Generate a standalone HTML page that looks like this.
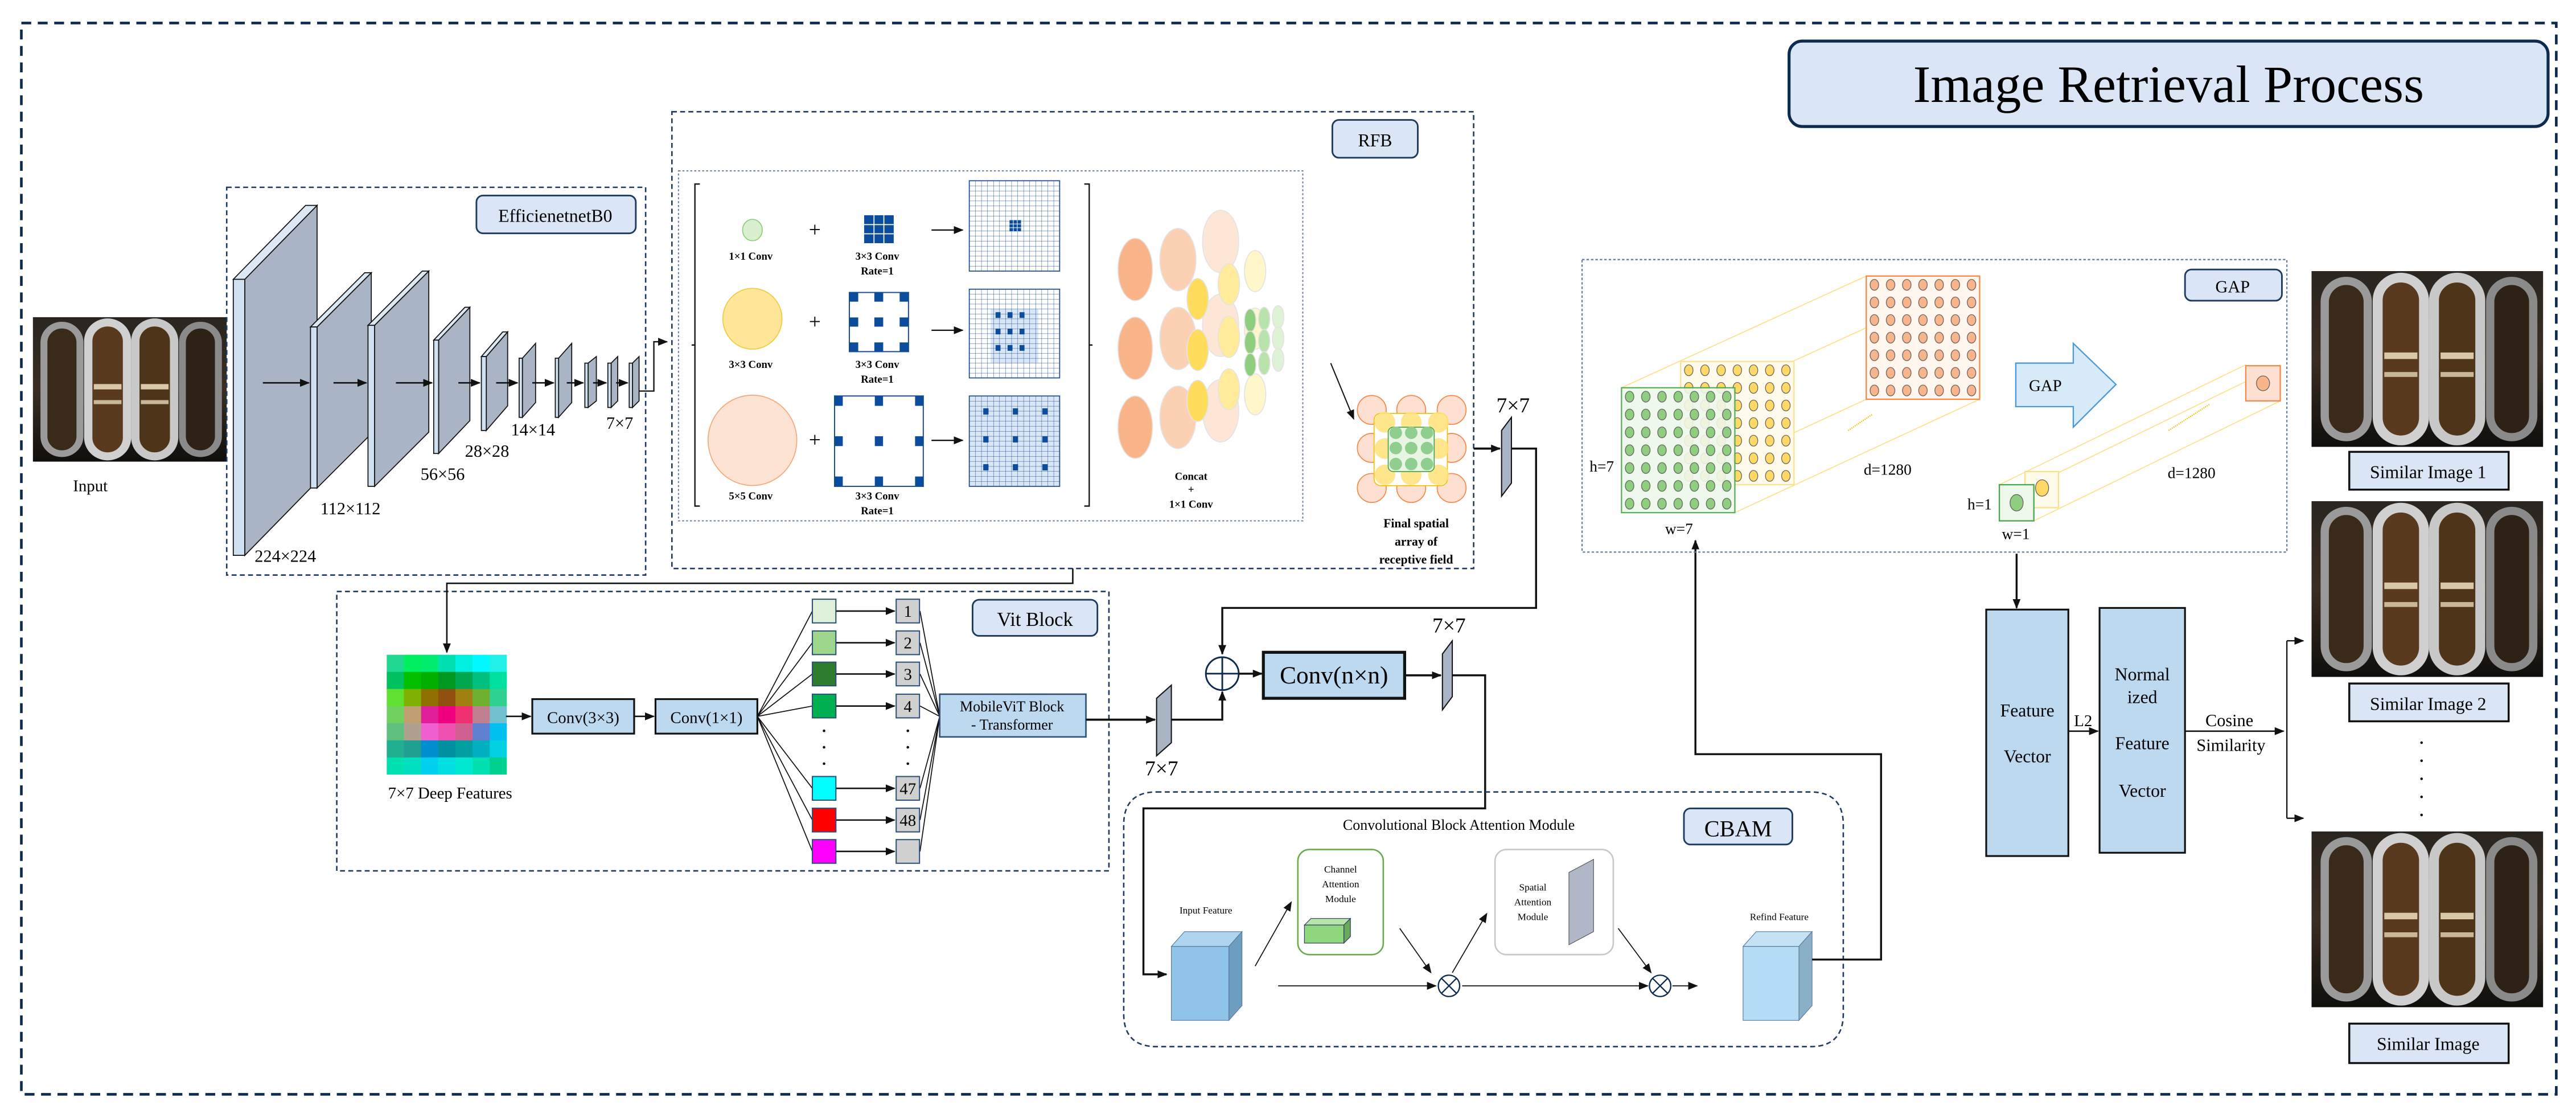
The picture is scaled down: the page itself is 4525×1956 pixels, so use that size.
<!DOCTYPE html>
<html><head><meta charset="utf-8">
<style>
html,body{margin:0;padding:0;background:#fff;}
svg{display:block;font-family:"Liberation Serif",serif;}
</style></head>
<body>
<svg width="4525" height="1956" viewBox="0 0 1568 678" preserveAspectRatio="none" xmlns="http://www.w3.org/2000/svg">
<defs>
<marker id="ah" viewBox="0 0 10 10" refX="9" refY="5" markerWidth="6" markerHeight="6" orient="auto" markerUnits="userSpaceOnUse"><path d="M0,1 L10,5 L0,9 z" fill="#111"/></marker>
<linearGradient id="ph" x1="0" y1="0" x2="0" y2="1"><stop offset="0" stop-color="#2a2520"/><stop offset="0.5" stop-color="#3a2e22"/><stop offset="1" stop-color="#100e0c"/></linearGradient>
<g id="photo">
<rect x="0" y="0" width="140" height="108" fill="url(#ph)"/>
<rect x="8" y="6" width="26" height="96" rx="13" fill="#3a2a1a" stroke="#9a9a9a" stroke-width="5"/>
<rect x="40" y="4" width="28" height="100" rx="14" fill="#5a3a1e" stroke="#d0d0d0" stroke-width="6"/>
<rect x="74" y="4" width="28" height="100" rx="14" fill="#4e3418" stroke="#c8c8c8" stroke-width="6"/>
<rect x="108" y="6" width="26" height="96" rx="13" fill="#2e2216" stroke="#8a8a8a" stroke-width="5"/>
<rect x="44" y="50" width="20" height="4" fill="#d8c8a8"/><rect x="78" y="50" width="20" height="4" fill="#d8c8a8"/>
<rect x="44" y="62" width="20" height="3" fill="#c8b898"/><rect x="78" y="62" width="20" height="3" fill="#c8b898"/>
</g>
<pattern id="g1" patternUnits="userSpaceOnUse" x="590" y="110" width="3.667" height="3.056"><path d="M0,0 H3.667 M0,0 V3.056" stroke="#1f4e8f" stroke-width="0.35" fill="none"/></pattern>
<pattern id="g2" patternUnits="userSpaceOnUse" x="590" y="176" width="3.667" height="3.0"><path d="M0,0 H3.667 M0,0 V3" stroke="#1f4e8f" stroke-width="0.35" fill="none"/></pattern>
<pattern id="g3" patternUnits="userSpaceOnUse" x="590" y="241" width="3.667" height="3.056"><path d="M0,0 H3.667 M0,0 V3.056" stroke="#1f4e8f" stroke-width="0.35" fill="none"/></pattern>
<pattern id="cO" patternUnits="userSpaceOnUse" x="1136" y="168" width="9.857" height="10.714"><ellipse cx="4.93" cy="5.36" rx="2.6" ry="3.3" fill="#f8b48a" stroke="#555" stroke-width="0.4"/></pattern>
<pattern id="cY" patternUnits="userSpaceOnUse" x="1023" y="220" width="9.857" height="10.714"><ellipse cx="4.93" cy="5.36" rx="2.6" ry="3.3" fill="#ffd966" stroke="#555" stroke-width="0.4"/></pattern>
<pattern id="cG" patternUnits="userSpaceOnUse" x="987" y="236" width="9.857" height="10.857"><ellipse cx="4.93" cy="5.43" rx="2.6" ry="3.3" fill="#8fce7f" stroke="#555" stroke-width="0.4"/></pattern>
</defs>

<rect x="13" y="14" width="1543" height="652" fill="none" stroke="#0d2a4f" stroke-width="1.6" stroke-dasharray="6,4"/>
<rect x="1089" y="25" width="462" height="52" rx="8" fill="#dae6f5" stroke="#0d2a4f" stroke-width="1.8"/>
<text x="1320" y="62" font-size="32" text-anchor="middle">Image Retrieval Process</text>

<svg x="20" y="193" width="118" height="88" viewBox="0 0 140 108" preserveAspectRatio="none"><use href="#photo"/></svg>
<text x="55" y="299" font-size="10" text-anchor="middle">Input</text>

<!-- EfficientNet -->
<rect x="138" y="114" width="255" height="236" fill="none" stroke="#1f3a5f" stroke-width="0.9" stroke-dasharray="3,2"/>
<rect x="290" y="119" width="97" height="23" rx="4" fill="#dae6f5" stroke="#1f3a5f" stroke-width="1"/>
<text x="338" y="135" font-size="11" text-anchor="middle">EfficienetnetB0</text>
<g stroke="#111" stroke-width="0.6">
<polygon points="149,170 193,125 193,293 149,338" fill="#a9b4c4"/><polygon points="142,170 186,125 193,125 149,170" fill="#dce8f4"/><rect x="142" y="170" width="7" height="168" fill="#cfe0f0"/>
<polygon points="193,199 226,166 226,264 193,297" fill="#a9b4c4"/><polygon points="189,199 222,166 226,166 193,199" fill="#dce8f4"/><rect x="189" y="199" width="4" height="98" fill="#cfe0f0"/>
<polygon points="228,198 261,165 261,263 228,296" fill="#a9b4c4"/><polygon points="224,198 257,165 261,165 228,198" fill="#dce8f4"/><rect x="224" y="198" width="4" height="98" fill="#cfe0f0"/>
<polygon points="267,207 286,187 286,256 267,276" fill="#a9b4c4"/><polygon points="264,207 283,187 286,187 267,207" fill="#dce8f4"/><rect x="264" y="207" width="3" height="69" fill="#cfe0f0"/>
<polygon points="296,217 309,202 309,247 296,262" fill="#a9b4c4"/><polygon points="293,217 306,202 309,202 296,217" fill="#dce8f4"/><rect x="293" y="217" width="3" height="45" fill="#cfe0f0"/>
<polygon points="318,218 326,209 326,245 318,254" fill="#a9b4c4"/><rect x="316" y="218" width="2" height="36" fill="#cfe0f0"/>
<polygon points="340,218 348,209 348,245 340,254" fill="#a9b4c4"/><rect x="338" y="218" width="2" height="36" fill="#cfe0f0"/>
<polygon points="358,221 363,217 363,244 358,248" fill="#a9b4c4"/><rect x="356" y="221" width="2" height="27" fill="#cfe0f0"/>
<polygon points="372,221 376,217 376,244 372,248" fill="#a9b4c4"/><rect x="370" y="221" width="2" height="27" fill="#cfe0f0"/>
<polygon points="385,221 389,217 389,244 385,248" fill="#a9b4c4"/><rect x="383" y="221" width="2" height="27" fill="#cfe0f0"/>
</g>
<g stroke="#111" stroke-width="0.9" marker-end="url(#ah)">
<line x1="160" y1="233" x2="188" y2="233"/><line x1="203" y1="233" x2="223" y2="233"/><line x1="241" y1="233" x2="263" y2="233"/><line x1="279" y1="233" x2="292" y2="233"/><line x1="302" y1="233" x2="315" y2="233"/><line x1="324" y1="233" x2="337" y2="233"/><line x1="345" y1="233" x2="355" y2="233"/><line x1="361" y1="233" x2="369" y2="233"/><line x1="375" y1="233" x2="382" y2="233"/>
</g>
<g font-size="10.5">
<text x="155" y="342">224×224</text><text x="195" y="313">112×112</text><text x="256" y="292">56×56</text><text x="283" y="278">28×28</text><text x="311" y="265">14×14</text><text x="369" y="261">7×7</text>
</g>
<polyline points="389,238 398,238 398,208 406,208" fill="none" stroke="#111" stroke-width="0.8" marker-end="url(#ah)"/>

<!-- RFB -->
<rect x="409" y="68" width="488" height="278" fill="none" stroke="#1f3a5f" stroke-width="0.9" stroke-dasharray="3,2"/>
<rect x="811" y="73" width="52" height="23" rx="4" fill="#dae6f5" stroke="#1f3a5f" stroke-width="1"/>
<text x="837" y="89" font-size="11" text-anchor="middle">RFB</text>
<rect x="413" y="104" width="380" height="213" fill="none" stroke="#6a7f99" stroke-width="0.7" stroke-dasharray="1.2,1.2"/>
<path d="M426,112 h-3 v196 h3 M660,112 h3 v196 h-3 M423,210 h-2 M663,210 h2" fill="none" stroke="#111" stroke-width="0.8"/>
<ellipse cx="458" cy="140" rx="6" ry="6.5" fill="#d8efd0" stroke="#8fce7f" stroke-width="0.6"/>
<ellipse cx="458" cy="194" rx="18" ry="18.5" fill="#ffe699" stroke="#f5c842" stroke-width="0.6"/>
<ellipse cx="458" cy="268" rx="27" ry="27.5" fill="#fde3d3" stroke="#f4a97a" stroke-width="0.6"/>
<g font-size="13" text-anchor="middle"><text x="496" y="144">+</text><text x="496" y="200">+</text><text x="496" y="272">+</text></g>
<g font-size="6.5" font-weight="bold" text-anchor="middle">
<text x="457" y="158">1×1 Conv</text><text x="457" y="224">3×3 Conv</text><text x="457" y="304">5×5 Conv</text>
<text x="534" y="158">3×3 Conv</text><text x="534" y="167">Rate=1</text>
<text x="534" y="224">3×3 Conv</text><text x="534" y="233">Rate=1</text>
<text x="534" y="304">3×3 Conv</text><text x="534" y="313">Rate=1</text>
<text x="725" y="292">Concat</text><text x="725" y="300">+</text><text x="725" y="309">1×1 Conv</text>
</g>
<g stroke="#111" stroke-width="0.8" marker-end="url(#ah)"><line x1="567" y1="140" x2="586" y2="140"/><line x1="567" y1="201" x2="586" y2="201"/><line x1="567" y1="268" x2="586" y2="268"/></g>
<!-- kernels -->
<rect x="526" y="131" width="18" height="17" fill="#0b4d9c"/>
<path d="M532,131 v17 M538,131 v17 M526,136.7 h18 M526,142.3 h18" stroke="#fff" stroke-width="0.6"/>
<rect x="517" y="178" width="36" height="36" fill="#fff" stroke="#1f4e8f" stroke-width="0.7"/>
<g fill="#0b4d9c">
<rect x="517" y="178" width="5.4" height="5.6"/><rect x="532.2" y="178" width="5.4" height="5.6"/><rect x="547.6" y="178" width="5.4" height="5.6"/>
<rect x="517" y="193.2" width="5.4" height="5.6"/><rect x="532.2" y="193.2" width="5.4" height="5.6"/><rect x="547.6" y="193.2" width="5.4" height="5.6"/>
<rect x="517" y="208.4" width="5.4" height="5.6"/><rect x="532.2" y="208.4" width="5.4" height="5.6"/><rect x="547.6" y="208.4" width="5.4" height="5.6"/>
</g>
<rect x="508" y="241" width="54" height="55" fill="#fff" stroke="#1f4e8f" stroke-width="0.7"/>
<g fill="#0b4d9c">
<rect x="508" y="241" width="5" height="6"/><rect x="532.5" y="241" width="5" height="6"/><rect x="557" y="241" width="5" height="6"/>
<rect x="508" y="265.5" width="5" height="6"/><rect x="532.5" y="265.5" width="5" height="6"/><rect x="557" y="265.5" width="5" height="6"/>
<rect x="508" y="290" width="5" height="6"/><rect x="532.5" y="290" width="5" height="6"/><rect x="557" y="290" width="5" height="6"/>
</g>
<!-- big grids -->
<rect x="590" y="110" width="55" height="55" fill="#fff"/>
<rect x="590" y="110" width="55" height="55" fill="url(#g1)" stroke="#1f4e8f" stroke-width="0.6"/>
<rect x="614.5" y="134" width="7" height="6.8" fill="#0b4d9c"/>
<path d="M616.8,134 v6.8 M619.2,134 v6.8 M614.5,136.3 h7 M614.5,138.6 h7" stroke="#fff" stroke-width="0.35"/>
<rect x="590" y="176" width="55" height="54" fill="#fff"/>
<rect x="603" y="188" width="29" height="33" fill="#d8e6f5"/>
<rect x="590" y="176" width="55" height="54" fill="url(#g2)" stroke="#1f4e8f" stroke-width="0.6"/>
<g fill="#0b4d9c">
<rect x="606" y="190" width="3" height="3.5"/><rect x="613.3" y="190" width="3" height="3.5"/><rect x="620.6" y="190" width="3" height="3.5"/>
<rect x="606" y="200" width="3" height="3.5"/><rect x="613.3" y="200" width="3" height="3.5"/><rect x="620.6" y="200" width="3" height="3.5"/>
<rect x="606" y="210" width="3" height="3.5"/><rect x="613.3" y="210" width="3" height="3.5"/><rect x="620.6" y="210" width="3" height="3.5"/>
</g>
<rect x="590" y="241" width="55" height="55" fill="#d8e6f5"/>
<rect x="590" y="241" width="55" height="55" fill="url(#g3)" stroke="#1f4e8f" stroke-width="0.6"/>
<g fill="#0b4d9c">
<rect x="598.5" y="248.5" width="3.2" height="3.8"/><rect x="616.5" y="248.5" width="3.2" height="3.8"/><rect x="634.5" y="248.5" width="3.2" height="3.8"/>
<rect x="598.5" y="265.5" width="3.2" height="3.8"/><rect x="616.5" y="265.5" width="3.2" height="3.8"/><rect x="634.5" y="265.5" width="3.2" height="3.8"/>
<rect x="598.5" y="282.5" width="3.2" height="3.8"/><rect x="616.5" y="282.5" width="3.2" height="3.8"/><rect x="634.5" y="282.5" width="3.2" height="3.8"/>
</g>
<!-- concat ellipses -->
<g stroke="#e4e4e4" stroke-width="0.6">
<ellipse cx="691" cy="164" rx="10.5" ry="19" fill="#f9b489"/><ellipse cx="691" cy="212" rx="10.5" ry="19" fill="#f9b489"/><ellipse cx="691" cy="260" rx="10.5" ry="19" fill="#f9b489"/>
<ellipse cx="743" cy="147" rx="11" ry="19" fill="#fde6d6"/><ellipse cx="743" cy="198" rx="11" ry="19" fill="#fde6d6"/><ellipse cx="743" cy="250" rx="11" ry="19" fill="#fde6d6"/>
<ellipse cx="717" cy="158" rx="11" ry="19" fill="#fbd0b3"/><ellipse cx="717" cy="206" rx="11" ry="19" fill="#fbd0b3"/><ellipse cx="717" cy="254" rx="11" ry="19" fill="#fbd0b3"/>
<ellipse cx="764" cy="165" rx="6.5" ry="12.5" fill="#fff7c9"/><ellipse cx="764" cy="200" rx="6.5" ry="12.5" fill="#fff7c9"/><ellipse cx="764" cy="240" rx="6.5" ry="12.5" fill="#fff7c9"/>
<ellipse cx="748" cy="173" rx="6.5" ry="12.5" fill="#ffeb99"/><ellipse cx="748" cy="205" rx="6.5" ry="12.5" fill="#ffeb99"/><ellipse cx="748" cy="237" rx="6.5" ry="12.5" fill="#ffeb99"/>
<ellipse cx="729" cy="182" rx="6.5" ry="12.5" fill="#ffdc5c"/><ellipse cx="729" cy="213" rx="6.5" ry="12.5" fill="#ffdc5c"/><ellipse cx="729" cy="244" rx="6.5" ry="12.5" fill="#ffdc5c"/>
<ellipse cx="778" cy="193" rx="3.5" ry="7" fill="#def2d6"/><ellipse cx="778" cy="206" rx="3.5" ry="7" fill="#def2d6"/><ellipse cx="778" cy="219" rx="3.5" ry="7" fill="#def2d6"/>
<ellipse cx="769.5" cy="194" rx="3.5" ry="7" fill="#b9e2ad"/><ellipse cx="769.5" cy="207.5" rx="3.5" ry="7" fill="#b9e2ad"/><ellipse cx="769.5" cy="221" rx="3.5" ry="7" fill="#b9e2ad"/>
<ellipse cx="761" cy="195" rx="3.5" ry="7" fill="#8fce7f"/><ellipse cx="761" cy="208.5" rx="3.5" ry="7" fill="#8fce7f"/><ellipse cx="761" cy="222" rx="3.5" ry="7" fill="#8fce7f"/>
</g>
<line x1="810" y1="221" x2="824" y2="255" stroke="#111" stroke-width="0.7" marker-end="url(#ah)"/>
<!-- final spatial array -->
<g fill="#fde0d2" stroke="#f4894a" stroke-width="0.6">
<circle cx="835" cy="249.5" r="8.8"/><circle cx="859" cy="249.5" r="8.8"/><circle cx="883.6" cy="249.5" r="8.8"/>
<circle cx="835" cy="272.6" r="8.8"/><circle cx="859" cy="272.6" r="8.8"/><circle cx="883.6" cy="272.6" r="8.8"/>
<circle cx="835" cy="297" r="8.8"/><circle cx="859" cy="297" r="8.8"/><circle cx="883.6" cy="297" r="8.8"/>
</g>
<rect x="836.4" y="251.6" width="44.6" height="44" rx="4" fill="#fff" stroke="#f5c000" stroke-width="0.6"/>
<g fill="#ffe27a" opacity="0.85">
<circle cx="843" cy="257" r="6.3"/><circle cx="859" cy="257" r="6.3"/><circle cx="875.6" cy="257" r="6.3"/>
<circle cx="843" cy="273" r="6.3"/><circle cx="859" cy="273" r="6.3"/><circle cx="875.6" cy="273" r="6.3"/>
<circle cx="843" cy="289" r="6.3"/><circle cx="859" cy="289" r="6.3"/><circle cx="875.6" cy="289" r="6.3"/>
</g>
<rect x="845" y="260" width="28" height="27" rx="3" fill="#e8f5e3" stroke="#4aa84a" stroke-width="0.6"/>
<g fill="#8fce8f">
<circle cx="849.6" cy="263.4" r="3.8"/><circle cx="859" cy="263.4" r="3.8"/><circle cx="868.6" cy="263.4" r="3.8"/>
<circle cx="849.6" cy="272.7" r="3.8"/><circle cx="859" cy="272.7" r="3.8"/><circle cx="868.6" cy="272.7" r="3.8"/>
<circle cx="849.6" cy="282.4" r="3.8"/><circle cx="859" cy="282.4" r="3.8"/><circle cx="868.6" cy="282.4" r="3.8"/>
</g>
<g font-size="7.5" font-weight="bold" text-anchor="middle"><text x="862" y="321">Final spatial</text><text x="862" y="332">array of</text><text x="862" y="343">receptive field</text></g>

<line x1="897" y1="273" x2="913" y2="273" stroke="#111" stroke-width="1.3" marker-end="url(#ah)"/>
<polygon points="914,262 920,254 920,294 914,302" fill="#a9b4c4" stroke="#111" stroke-width="0.7"/>
<text x="921" y="251" font-size="13" text-anchor="middle">7×7</text>
<polyline points="920,273 935,273 935,370 744,370 744,398" fill="none" stroke="#111" stroke-width="1.2" marker-end="url(#ah)"/>

<!-- Vit block -->
<rect x="205" y="360" width="470" height="170" fill="none" stroke="#1f3a5f" stroke-width="0.9" stroke-dasharray="3,2"/>
<rect x="592" y="365" width="76" height="22" rx="4" fill="#dae6f5" stroke="#1f3a5f" stroke-width="1"/>
<text x="630" y="381" font-size="12" text-anchor="middle">Vit Block</text>
<polyline points="653,346 653,355 272,355 272,397" fill="none" stroke="#111" stroke-width="0.9" marker-end="url(#ah)"/>
<g>
<rect x="235.4" y="398.5" width="10.6" height="10.6" fill="#20d890"/><rect x="245.85" y="398.5" width="10.6" height="10.6" fill="#00f060"/><rect x="256.3" y="398.5" width="10.6" height="10.6" fill="#00ee70"/><rect x="266.75" y="398.5" width="10.6" height="10.6" fill="#00e0b0"/><rect x="277.2" y="398.5" width="10.6" height="10.6" fill="#00f0e0"/><rect x="287.65" y="398.5" width="10.6" height="10.6" fill="#00f8ff"/><rect x="298.1" y="398.5" width="10.4" height="10.6" fill="#20f0e8"/>
<rect x="235.4" y="408.9" width="10.6" height="10.6" fill="#00c060"/><rect x="245.85" y="408.9" width="10.6" height="10.6" fill="#00c000"/><rect x="256.3" y="408.9" width="10.6" height="10.6" fill="#00b000"/><rect x="266.75" y="408.9" width="10.6" height="10.6" fill="#009820"/><rect x="277.2" y="408.9" width="10.6" height="10.6" fill="#00a850"/><rect x="287.65" y="408.9" width="10.6" height="10.6" fill="#00c080"/><rect x="298.1" y="408.9" width="10.4" height="10.6" fill="#00e0a0"/>
<rect x="235.4" y="419.3" width="10.6" height="10.6" fill="#60e030"/><rect x="245.85" y="419.3" width="10.6" height="10.6" fill="#80b000"/><rect x="256.3" y="419.3" width="10.6" height="10.6" fill="#907000"/><rect x="266.75" y="419.3" width="10.6" height="10.6" fill="#905010"/><rect x="277.2" y="419.3" width="10.6" height="10.6" fill="#a08010"/><rect x="287.65" y="419.3" width="10.6" height="10.6" fill="#70b030"/><rect x="298.1" y="419.3" width="10.4" height="10.6" fill="#30d090"/>
<rect x="235.4" y="429.8" width="10.6" height="10.6" fill="#70d060"/><rect x="245.85" y="429.8" width="10.6" height="10.6" fill="#c0a070"/><rect x="256.3" y="429.8" width="10.6" height="10.6" fill="#e0209a"/><rect x="266.75" y="429.8" width="10.6" height="10.6" fill="#f00080"/><rect x="277.2" y="429.8" width="10.6" height="10.6" fill="#f03070"/><rect x="287.65" y="429.8" width="10.6" height="10.6" fill="#c08090"/><rect x="298.1" y="429.8" width="10.4" height="10.6" fill="#70c0d0"/>
<rect x="235.4" y="440.2" width="10.6" height="10.6" fill="#60c080"/><rect x="245.85" y="440.2" width="10.6" height="10.6" fill="#b0a090"/><rect x="256.3" y="440.2" width="10.6" height="10.6" fill="#f060d0"/><rect x="266.75" y="440.2" width="10.6" height="10.6" fill="#f050b0"/><rect x="277.2" y="440.2" width="10.6" height="10.6" fill="#d06090"/><rect x="287.65" y="440.2" width="10.6" height="10.6" fill="#6080d0"/><rect x="298.1" y="440.2" width="10.4" height="10.6" fill="#00c0f0"/>
<rect x="235.4" y="450.6" width="10.6" height="10.6" fill="#20b090"/><rect x="245.85" y="450.6" width="10.6" height="10.6" fill="#20a090"/><rect x="256.3" y="450.6" width="10.6" height="10.6" fill="#0090d0"/><rect x="266.75" y="450.6" width="10.6" height="10.6" fill="#0090a0"/><rect x="277.2" y="450.6" width="10.6" height="10.6" fill="#00a0a0"/><rect x="287.65" y="450.6" width="10.6" height="10.6" fill="#00b0c0"/><rect x="298.1" y="450.6" width="10.4" height="10.6" fill="#00d0e0"/>
<rect x="235.4" y="461" width="10.6" height="10.4" fill="#00e0b0"/><rect x="245.85" y="461" width="10.6" height="10.4" fill="#00e0c0"/><rect x="256.3" y="461" width="10.6" height="10.4" fill="#00d0f0"/><rect x="266.75" y="461" width="10.6" height="10.4" fill="#00e0e0"/><rect x="277.2" y="461" width="10.6" height="10.4" fill="#00e8d0"/><rect x="287.65" y="461" width="10.6" height="10.4" fill="#00e0b0"/><rect x="298.1" y="461" width="10.4" height="10.4" fill="#00d090"/>
</g>
<text x="274" y="486" font-size="10" text-anchor="middle">7×7 Deep Features</text>
<line x1="308" y1="436" x2="323" y2="436" stroke="#111" stroke-width="0.9" marker-end="url(#ah)"/>
<rect x="324" y="425.5" width="62" height="21" fill="#bcd9f0" stroke="#111" stroke-width="1.1"/>
<text x="355" y="440" font-size="10" text-anchor="middle">Conv(3×3)</text>
<line x1="386" y1="436" x2="398" y2="436" stroke="#111" stroke-width="0.9" marker-end="url(#ah)"/>
<rect x="399" y="425.5" width="62" height="21" fill="#bcd9f0" stroke="#111" stroke-width="1.1"/>
<text x="430" y="440" font-size="10" text-anchor="middle">Conv(1×1)</text>
<g stroke="#111" stroke-width="0.6">
<line x1="461" y1="436" x2="494.5" y2="371.9"/><line x1="461" y1="436" x2="494.5" y2="391.2"/><line x1="461" y1="436" x2="494.5" y2="410.2"/><line x1="461" y1="436" x2="494.5" y2="429.7"/><line x1="461" y1="436" x2="494.5" y2="479.8"/><line x1="461" y1="436" x2="494.5" y2="499.1"/><line x1="461" y1="436" x2="494.5" y2="518.2"/>
<line x1="560" y1="371.9" x2="572" y2="436"/><line x1="560" y1="391.2" x2="572" y2="436"/><line x1="560" y1="410.2" x2="572" y2="436"/><line x1="560" y1="429.7" x2="572" y2="436"/><line x1="560" y1="479.8" x2="572" y2="436"/><line x1="560" y1="499.1" x2="572" y2="436"/><line x1="560" y1="518.2" x2="572" y2="436"/>
</g>
<g stroke="#2b4f7a" stroke-width="0.7">
<rect x="494.5" y="364.7" width="14.3" height="14.4" fill="#dff0d8"/><rect x="494.5" y="384" width="14.3" height="14.4" fill="#9ed68c"/><rect x="494.5" y="403" width="14.3" height="14.4" fill="#2e7d2e"/><rect x="494.5" y="422.5" width="14.3" height="14.4" fill="#00b050"/><rect x="494.5" y="472.6" width="14.3" height="14.4" fill="#00ffff"/><rect x="494.5" y="491.9" width="14.3" height="14.4" fill="#ff0000"/><rect x="494.5" y="511" width="14.3" height="14.4" fill="#ff00ff"/>
<rect x="545.5" y="364.7" width="14.2" height="14.4" fill="#d0d0d0"/><rect x="545.5" y="384" width="14.2" height="14.4" fill="#d0d0d0"/><rect x="545.5" y="403" width="14.2" height="14.4" fill="#d0d0d0"/><rect x="545.5" y="422.5" width="14.2" height="14.4" fill="#d0d0d0"/><rect x="545.5" y="472.6" width="14.2" height="14.4" fill="#d0d0d0"/><rect x="545.5" y="491.9" width="14.2" height="14.4" fill="#d0d0d0"/><rect x="545.5" y="511" width="14.2" height="14.4" fill="#d0d0d0"/>
</g>
<g stroke="#111" stroke-width="0.9" marker-end="url(#ah)">
<line x1="509" y1="371.9" x2="544.5" y2="371.9"/><line x1="509" y1="391.2" x2="544.5" y2="391.2"/><line x1="509" y1="410.2" x2="544.5" y2="410.2"/><line x1="509" y1="429.7" x2="544.5" y2="429.7"/><line x1="509" y1="479.8" x2="544.5" y2="479.8"/><line x1="509" y1="499.1" x2="544.5" y2="499.1"/><line x1="509" y1="518.2" x2="544.5" y2="518.2"/>
</g>
<g font-size="10" text-anchor="middle"><text x="552.6" y="375.4">1</text><text x="552.6" y="394.7">2</text><text x="552.6" y="413.7">3</text><text x="552.6" y="433.2">4</text><text x="552.6" y="483.3">47</text><text x="552.6" y="502.6">48</text></g>
<g fill="#111"><circle cx="501.6" cy="444.8" r="0.8"/><circle cx="501.6" cy="454.8" r="0.8"/><circle cx="501.6" cy="464.8" r="0.8"/><circle cx="552.6" cy="444.8" r="0.8"/><circle cx="552.6" cy="454.8" r="0.8"/><circle cx="552.6" cy="464.8" r="0.8"/></g>
<rect x="572" y="422.5" width="89" height="26" fill="#bcd9f0" stroke="#2b4f7a" stroke-width="0.9"/>
<text x="616" y="433" font-size="9" text-anchor="middle">MobileViT Block</text>
<text x="616" y="444" font-size="9" text-anchor="middle">- Transformer</text>
<line x1="661" y1="438" x2="703" y2="438" stroke="#111" stroke-width="1.3" marker-end="url(#ah)"/>
<polygon points="704,425 713,417 713,452 704,460" fill="#a9b4c4" stroke="#111" stroke-width="0.7"/>
<text x="707" y="472" font-size="13" text-anchor="middle">7×7</text>
<polyline points="713,438 744,438 744,421" fill="none" stroke="#111" stroke-width="1.2" marker-end="url(#ah)"/>
<circle cx="744" cy="410" r="10" fill="#fff" stroke="#0d2a4f" stroke-width="1"/>
<path d="M734,410 h20 M744,400 v20" stroke="#0d2a4f" stroke-width="1"/>
<line x1="754" y1="410" x2="768" y2="410" stroke="#111" stroke-width="1.2" marker-end="url(#ah)"/>
<rect x="769" y="397" width="86" height="28" fill="#bcd9f0" stroke="#111" stroke-width="1.8"/>
<text x="812" y="416" font-size="15" text-anchor="middle">Conv(n×n)</text>
<line x1="855" y1="411" x2="877" y2="411" stroke="#111" stroke-width="1.3" marker-end="url(#ah)"/>
<polygon points="878,398 884,390 884,424 878,432" fill="#a9b4c4" stroke="#111" stroke-width="0.7"/>
<text x="882" y="385" font-size="13" text-anchor="middle">7×7</text>
<polyline points="884,411 904,411 904,492 696,492 696,593 710,593" fill="none" stroke="#111" stroke-width="1.2" marker-end="url(#ah)"/>

<!-- CBAM -->
<path d="M704,482 H1102 Q1122,482 1122,502 V617 Q1122,637 1102,637 H704 Q684,637 684,617 V502 Q684,482 704,482 Z" fill="none" stroke="#1f3a5f" stroke-width="0.9" stroke-dasharray="3,2"/>
<rect x="1025" y="492" width="66" height="22" rx="4" fill="#dae6f5" stroke="#1f3a5f" stroke-width="1"/>
<text x="1058" y="509" font-size="14" text-anchor="middle">CBAM</text>
<text x="888" y="505" font-size="9" text-anchor="middle">Convolutional Block Attention Module</text>
<text x="734" y="556" font-size="6" text-anchor="middle">Input Feature</text>
<polygon points="713,576 721,567 756,567 748,576" fill="#aed4ef" stroke="#5a7a99" stroke-width="0.4"/>
<polygon points="748,576 756,567 756,612 748,621" fill="#6d9ec0" stroke="#5a7a99" stroke-width="0.4"/>
<rect x="713" y="576" width="35" height="45" fill="#8fc3e8" stroke="#5a7a99" stroke-width="0.4"/>
<rect x="790" y="517" width="52" height="64" rx="7" fill="#fff" stroke="#6aaa4a" stroke-width="0.9"/>
<g font-size="6" text-anchor="middle"><text x="816" y="531">Channel</text><text x="816" y="540">Attention</text><text x="816" y="549">Module</text></g>
<polygon points="794,563 798,559 822,559 818,563" fill="#b8e6a8" stroke="#336" stroke-width="0.4"/>
<polygon points="818,563 822,559 822,570 818,574" fill="#6aaa5a" stroke="#336" stroke-width="0.4"/>
<rect x="794" y="563" width="24" height="11" fill="#8fd77f" stroke="#336" stroke-width="0.4"/>
<rect x="910" y="517" width="72" height="64" rx="7" fill="#fff" stroke="#c8c8c8" stroke-width="0.9"/>
<g font-size="6" text-anchor="middle"><text x="933" y="542">Spatial</text><text x="933" y="551">Attention</text><text x="933" y="560">Module</text></g>
<polygon points="955,531 970,523 970,567 955,575" fill="#b0b8c8" stroke="#555" stroke-width="0.4"/>
<g stroke="#111" stroke-width="0.6" marker-end="url(#ah)">
<line x1="764" y1="588" x2="786" y2="549"/><line x1="852" y1="565" x2="871" y2="592"/><line x1="884" y1="592" x2="905" y2="556"/><line x1="985" y1="565" x2="1005" y2="592"/>
<line x1="778" y1="600" x2="874" y2="600"/><line x1="890" y1="600" x2="1003" y2="600"/><line x1="1018" y1="600" x2="1033" y2="600"/>
</g>
<g fill="#fff" stroke="#0d2a4f" stroke-width="0.8"><circle cx="882" cy="600" r="6.5"/><circle cx="1010.5" cy="600" r="6.5"/></g>
<path d="M877.4,595.4 l9.2,9.2 M886.6,595.4 l-9.2,9.2 M1005.9,595.4 l9.2,9.2 M1015.1,595.4 l-9.2,9.2" stroke="#0d2a4f" stroke-width="0.8"/>
<text x="1083" y="560" font-size="6" text-anchor="middle">Refind Feature</text>
<polygon points="1061,576 1069,567 1103,567 1095,576" fill="#c5e2f5" stroke="#5a7a99" stroke-width="0.4"/>
<polygon points="1095,576 1103,567 1103,612 1095,621" fill="#8ab0c8" stroke="#5a7a99" stroke-width="0.4"/>
<rect x="1061" y="576" width="34" height="45" fill="#b4dcf4" stroke="#5a7a99" stroke-width="0.4"/>
<polyline points="1103,584 1145,584 1145,459 1032,459 1032,329" fill="none" stroke="#111" stroke-width="1.2" marker-end="url(#ah)"/>

<!-- GAP -->
<rect x="963" y="158" width="429" height="178" fill="none" stroke="#6a7f99" stroke-width="0.8" stroke-dasharray="1.5,1.2"/>
<rect x="1330" y="164" width="59" height="19" rx="4" fill="#dae6f5" stroke="#1f3a5f" stroke-width="1"/>
<text x="1359" y="178" font-size="10.5" text-anchor="middle">GAP</text>
<g stroke="#ffe08a" stroke-width="0.6">
<line x1="987" y1="236" x2="1136" y2="168"/><line x1="1056" y1="312" x2="1205" y2="243"/><line x1="1056" y1="236" x2="1205" y2="168"/><line x1="987" y1="312" x2="1136" y2="243"/>
<line x1="1217" y1="295" x2="1367" y2="222"/><line x1="1238" y1="317" x2="1388" y2="244"/><line x1="1238" y1="295" x2="1388" y2="222"/>
</g>
<rect x="1136" y="168" width="69" height="75" fill="#fff6ee" stroke="#f4894a" stroke-width="0.8"/>
<rect x="1136" y="168" width="69" height="75" fill="url(#cO)"/>
<rect x="1023" y="220" width="69" height="75" fill="#fffbea" stroke="#f8e08a" stroke-width="0.8" opacity="0.9"/>
<rect x="1023" y="220" width="69" height="75" fill="url(#cY)"/>
<rect x="987" y="236" width="69" height="76" fill="#eef8ea" stroke="#4aa84a" stroke-width="0.8" opacity="0.9"/>
<rect x="987" y="236" width="69" height="76" fill="url(#cG)"/>
<line x1="1125" y1="262" x2="1140" y2="252" stroke="#f5c000" stroke-width="0.8" stroke-dasharray="0.6,0.6"/>
<line x1="1320" y1="262" x2="1345" y2="246" stroke="#f5c000" stroke-width="0.8" stroke-dasharray="0.6,0.6"/>
<rect x="1367" y="222.6" width="21" height="21.4" fill="#fde0d2" stroke="#f4894a" stroke-width="0.8"/>
<ellipse cx="1377.5" cy="233.3" rx="4" ry="4.5" fill="#f8b48a" stroke="#555" stroke-width="0.4"/>
<rect x="1232.6" y="287" width="20.4" height="22" fill="#fffbea" stroke="#f8e08a" stroke-width="0.8"/>
<ellipse cx="1243" cy="297" rx="4" ry="5" fill="#ffd966" stroke="#555" stroke-width="0.4"/>
<rect x="1217" y="295" width="21" height="22" fill="#eef8ea" stroke="#4aa84a" stroke-width="0.8"/>
<ellipse cx="1227.5" cy="306" rx="4" ry="5" fill="#8fce7f" stroke="#555" stroke-width="0.4"/>
<polygon points="1227,221 1262,221 1262,209 1288,234 1262,260 1262,247.5 1227,247.5" fill="#d6eaf8" stroke="#4a9ad8" stroke-width="0.8"/>
<text x="1245" y="238" font-size="10" text-anchor="middle">GAP</text>
<g font-size="9.5" text-anchor="middle">
<text x="975" y="287">h=7</text><text x="1022" y="325">w=7</text><text x="1149" y="289">d=1280</text>
<text x="1205" y="310">h=1</text><text x="1227" y="328">w=1</text><text x="1334" y="291">d=1280</text>
</g>
<line x1="1227.5" y1="337" x2="1227.5" y2="370" stroke="#111" stroke-width="1.2" marker-end="url(#ah)"/>

<rect x="1209" y="371" width="50" height="150" fill="#bcd9f0" stroke="#111" stroke-width="1.1"/>
<g font-size="11" text-anchor="middle"><text x="1234" y="436">Feature</text><text x="1234" y="464">Vector</text></g>
<rect x="1278" y="370" width="52" height="149" fill="#bcd9f0" stroke="#111" stroke-width="1.1"/>
<g font-size="11" text-anchor="middle"><text x="1304" y="414">Normal</text><text x="1304" y="428">ized</text><text x="1304" y="456">Feature</text><text x="1304" y="485">Vector</text></g>
<line x1="1259" y1="445" x2="1277" y2="445" stroke="#111" stroke-width="0.9" marker-end="url(#ah)"/>
<text x="1268" y="442" font-size="10" text-anchor="middle">L2</text>
<line x1="1330" y1="445" x2="1390" y2="445" stroke="#111" stroke-width="0.9" marker-end="url(#ah)"/>
<text x="1357" y="442" font-size="10.5" text-anchor="middle">Cosine</text>
<text x="1358" y="457" font-size="10.5" text-anchor="middle">Similarity</text>
<line x1="1392" y1="390" x2="1392" y2="498" stroke="#111" stroke-width="0.8"/>
<line x1="1392" y1="390" x2="1402" y2="390" stroke="#111" stroke-width="0.8" marker-end="url(#ah)"/>
<line x1="1392" y1="498" x2="1402" y2="498" stroke="#111" stroke-width="0.8" marker-end="url(#ah)"/>

<svg x="1407" y="165" width="141" height="107" viewBox="0 0 140 108" preserveAspectRatio="none"><use href="#photo"/></svg>
<svg x="1407" y="305" width="141" height="107" viewBox="0 0 140 108" preserveAspectRatio="none"><use href="#photo"/></svg>
<svg x="1407" y="506" width="141" height="107" viewBox="0 0 140 108" preserveAspectRatio="none"><use href="#photo"/></svg>
<g fill="#dae6f5" stroke="#111" stroke-width="1.2">
<rect x="1430" y="275" width="97" height="23"/><rect x="1430" y="416" width="97" height="23"/><rect x="1430" y="623" width="97" height="24"/></g>
<g font-size="11" text-anchor="middle"><text x="1478" y="291">Similar Image 1</text><text x="1478" y="432">Similar Image 2</text><text x="1478" y="639">Similar Image</text></g>
<g fill="#111"><circle cx="1474" cy="452" r="0.8"/><circle cx="1474" cy="463" r="0.8"/><circle cx="1474" cy="474" r="0.8"/><circle cx="1474" cy="485" r="0.8"/><circle cx="1474" cy="496" r="0.8"/></g>
</svg>
</body></html>
